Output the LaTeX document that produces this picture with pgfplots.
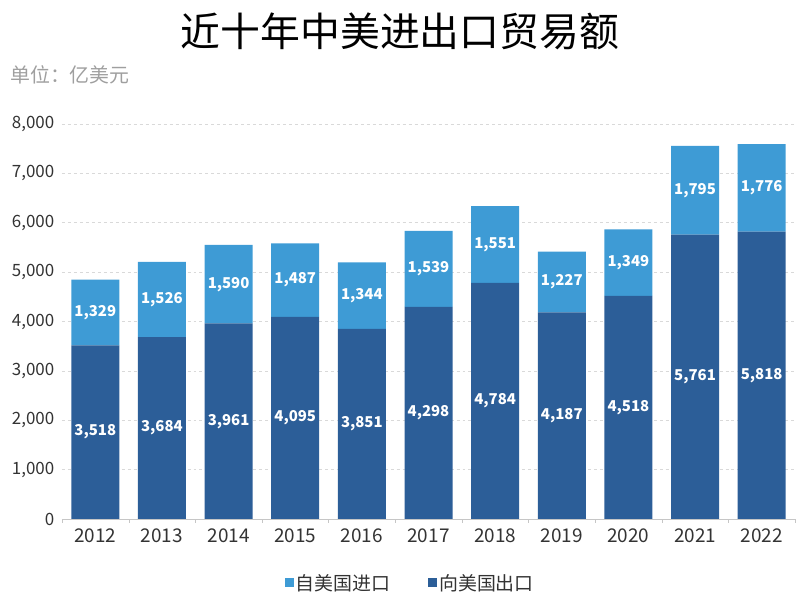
\documentclass[border=0pt]{standalone}
\usepackage{pgfplots}
\usepackage{pgfplotstable}
\pgfplotsset{compat=1.18}
\usepackage{fontspec}
\setmainfont{Noto Sans CJK SC}
\newfontfamily\cjk{Noto Sans CJK SC}
\definecolor{impc}{HTML}{3E9BD5}
\definecolor{expc}{HTML}{2C5E98}
\definecolor{txt}{HTML}{333333}
\pgfplotstableread{
idx year exp imp
0 2012 3518 1329
1 2013 3684 1526
2 2014 3961 1590
3 2015 4095 1487
4 2016 3851 1344
5 2017 4298 1539
6 2018 4784 1551
7 2019 4187 1227
8 2020 4518 1349
9 2021 5761 1795
10 2022 5818 1776
}\datatable
\begin{document}
\begin{tikzpicture}
\path[use as bounding box] (0bp,0bp) rectangle (800bp,602bp);
\pgfplotsset{
  base/.style={
    at={(62bp,83bp)}, anchor=south west, scale only axis,
    width=733bp, height=395bp,
    xmin=-0.5, xmax=10.5, ymin=0, ymax=8000,
  }
}
\begin{axis}[base,
  ybar stacked, bar width=48bp,
  axis x line*=bottom, axis y line*=left,
  x axis line style={draw=gray!45,-},
  y axis line style={draw=none},
  xtick={0,...,10},
  xticklabels={2012,2013,2014,2015,2016,2017,2018,2019,2020,2021,2022},
  minor xtick={-0.5,0.5,...,10.5},
  major x tick style={draw=none},
  minor x tick style={draw=gray!45},
  minor tick length=4bp,
  tick align=outside,
  ytick={0,1000,...,8000},
  major y tick style={draw=none},
  ymajorgrids, grid style={dashed, gray!30, line width=0.6pt},
  /pgf/number format/assume math mode=true,
  /pgf/number format/1000 sep={,},
  xticklabel style={font=\fontsize{19}{19}\selectfont, text=txt, yshift=-2bp},
  yticklabel style={font=\fontsize{17}{17}\selectfont, text=txt},
  reverse legend,
  legend columns=2,
  legend style={at={(0.475,-0.162)}, anchor=center, draw=none, fill=none,
    font=\fontsize{19}{19}\selectfont, text=txt,
    /tikz/every even column/.append style={column sep=36bp}},
  legend image code/.code={\fill[#1] (0bp,-4.5bp) rectangle (9bp,4.5bp);},
]
\addplot[fill=expc, draw=none] table[x=idx, y=exp] {\datatable};
\addlegendentry{向美国出口}
\addplot[fill=impc, draw=none] table[x=idx, y=imp] {\datatable};
\addlegendentry{自美国进口}
\end{axis}
\begin{axis}[base, hide axis,
  nodes near coords,
  nodes near coords align={center},
  every node near coord/.append style={font=\bfseries\fontsize{15}{15}\selectfont, text=white,
    /pgf/number format/assume math mode=true, /pgf/number format/1000 sep={,}},
]
\addplot[draw=none, mark=none, point meta=\thisrow{exp}] table[x=idx, y expr=\thisrow{exp}/2] {\datatable};
\addplot[draw=none, mark=none, point meta=\thisrow{imp}] table[x=idx, y expr=\thisrow{exp}+\thisrow{imp}/2] {\datatable};
\end{axis}
\node[font=\fontsize{40}{40}\selectfont, text=black] at (400bp,571bp) {近十年中美进出口贸易额};
\node[font=\fontsize{20}{20}\selectfont, text=gray!75, anchor=west, inner sep=0pt] at (10bp,527bp) {单位：亿美元};
\end{tikzpicture}
\end{document}
